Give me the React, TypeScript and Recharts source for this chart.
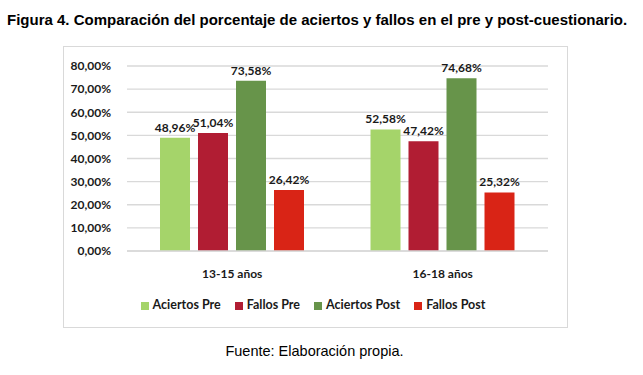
import { Bar, BarChart, CartesianGrid, LabelList, Legend, XAxis, YAxis } from "recharts";

const groups = ["13-15 años", "16-18 años"];
const aciertosPre = [48.96, 52.58];
const fallosPre = [51.04, 47.42];
const aciertosPost = [73.58, 74.68];
const fallosPost = [26.42, 25.32];
const yTicks = [0, 10, 20, 30, 40, 50, 60, 70, 80];

const data = groups.map((name, i) => ({
  name,
  aciertosPre: aciertosPre[i],
  fallosPre: fallosPre[i],
  aciertosPost: aciertosPost[i],
  fallosPost: fallosPost[i],
}));

const pct = (v: number) => `${Number(v).toFixed(2).replace(".", ",")}%`;
const font = "Lato, 'Open Sans', sans-serif";

const series = [
  { key: "aciertosPre", name: "Aciertos Pre", color: "#A5D46A" },
  { key: "fallosPre", name: "Fallos Pre", color: "#B11D33" },
  { key: "aciertosPost", name: "Aciertos Post", color: "#67944A" },
  { key: "fallosPost", name: "Fallos Post", color: "#D92416" },
];
const order = series.map((s) => s.name);

export default function App() {
  return (
    <div style={{ position: "absolute", left: 0, top: 0, width: 643, height: 375, background: "#fff" }}>
      <div
        style={{
          position: "absolute",
          left: 7,
          top: 11,
          width: 636,
          fontFamily: "'Liberation Sans', Arial, sans-serif",
          fontWeight: "bold",
          fontSize: 15,
          whiteSpace: "nowrap",
        }}
      >
        Figura 4. Comparación del porcentaje de aciertos y fallos en el pre y post-cuestionario.
      </div>
      <div
        style={{
          position: "absolute",
          left: 63,
          top: 46,
          width: 505,
          height: 282,
          boxSizing: "border-box",
          border: "1px solid #d9d9d9",
        }}
      >
        <BarChart
          width={503}
          height={280}
          data={data}
          margin={{ top: 19, right: 19, bottom: 31, left: 0 }}
          barSize={30}
          barGap={8}
          style={{ fontFamily: font }}
        >
          <CartesianGrid vertical={false} stroke="#d9d9d9" strokeWidth={1.3} />
          <XAxis
            dataKey="name"
            tickLine={false}
            axisLine={{ stroke: "#d9d9d9", strokeWidth: 1.3 }}
            tick={{ fill: "#1a1a1a", fontSize: 12, fontWeight: "bold" }}
            tickMargin={12}
            height={30}
          />
          <YAxis
            domain={[0, 80]}
            ticks={yTicks}
            tickFormatter={pct}
            tickLine={false}
            axisLine={false}
            width={63}
            tickMargin={10}
            tick={{ fill: "#1a1a1a", fontSize: 12, fontWeight: "bold" }}
          />
          <Legend
            iconType="square"
            iconSize={8}
            itemSorter={(item: any) => order.indexOf(item.value)}
            wrapperStyle={{ left: 0, width: 512, top: 250, bottom: "auto", fontSize: 12.5, fontWeight: "bold" }}
            formatter={(value) => <span style={{ color: "#1a1a1a", paddingRight: 4 }}>{value}</span>}
          />
          {series.map((s) => (
            <Bar key={s.key} dataKey={s.key} name={s.name} fill={s.color} isAnimationActive={false}>
              <LabelList
                dataKey={s.key}
                position="top"
                offset={6}
                formatter={pct}
                style={{ fill: "#1a1a1a", fontSize: 12, fontWeight: "bold" }}
              />
            </Bar>
          ))}
        </BarChart>
      </div>
      <div
        style={{
          position: "absolute",
          left: 0,
          width: 629,
          top: 343,
          textAlign: "center",
          fontFamily: "'Liberation Sans', Arial, sans-serif",
          fontSize: 14.5,
        }}
      >
        Fuente: Elaboración propia.
      </div>
    </div>
  );
}
